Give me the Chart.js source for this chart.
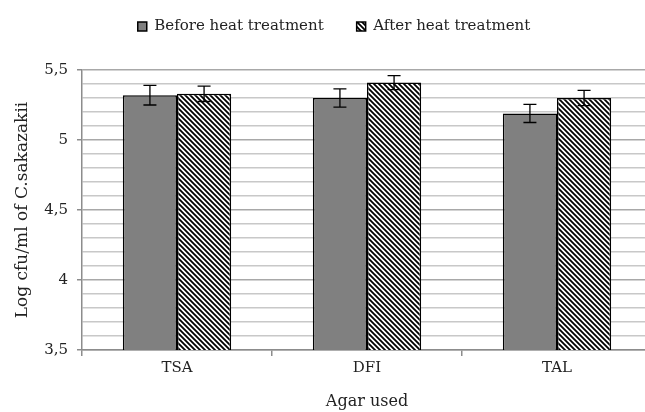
<!DOCTYPE html>
<html>
<head>
<meta charset="utf-8">
<script src="https://cdn.jsdelivr.net/npm/chart.js@4.4.0/dist/chart.umd.min.js"></script>
<style>
    html, body { margin: 0; padding: 0; background: #fff; overflow: hidden; }
    #wrap { width: 655px; height: 412px; }
</style>
</head>
<body>
<div id="wrap"><canvas id="chart"></canvas></div>
<script>
const agars = ['TSA', 'DFI', 'TAL'];
const beforeHeat = [5.32, 5.30, 5.19];
const afterHeat = [5.33, 5.41, 5.30];
const beforeErr = [0.07, 0.065, 0.065];
const afterErr = [0.055, 0.05, 0.055];
const yTicks = [3.5, 3.6, 3.7, 3.8, 3.9, 4.0, 4.1, 4.2, 4.3, 4.4, 4.5,
                4.6, 4.7, 4.8, 4.9, 5.0, 5.1, 5.2, 5.3, 5.4, 5.5];

const serif = 'DejaVu Serif';

function isMajor(v) {
    return Math.abs(v * 2 - Math.round(v * 2)) < 1e-6;
}

// black / white diagonal stripes for the "after" series
function makeHatch() {
    const size = 5;
    const tile = document.createElement('canvas');
    tile.width = size;
    tile.height = size;
    const c = tile.getContext('2d');
    c.fillStyle = '#fff';
    c.fillRect(0, 0, size, size);
    c.strokeStyle = '#000';
    c.lineWidth = 1.8;
    c.beginPath();
    for (const k of [-size, 0, size]) {
        c.moveTo(k - 1, -1);
        c.lineTo(k + size + 1, size + 1);
    }
    c.stroke();
    return c.createPattern(tile, 'repeat');
}

// Chart.js has no error bars, draw them from the y scale
const errorBars = {
    id: 'errorBars',
    afterDatasetsDraw(chart) {
        const ctx = chart.ctx;
        const y = chart.scales.y;
        const errs = [beforeErr, afterErr];
        ctx.save();
        ctx.strokeStyle = '#000';
        ctx.lineWidth = 1.3;
        chart.data.datasets.forEach((ds, i) => {
            chart.getDatasetMeta(i).data.forEach((bar, j) => {
                let top = y.getPixelForValue(ds.data[j] + errs[i][j]);
                let bottom = y.getPixelForValue(ds.data[j] - errs[i][j]);
                ctx.beginPath();
                ctx.moveTo(bar.x, top);
                ctx.lineTo(bar.x, bottom);
                ctx.moveTo(bar.x - 6.5, top);
                ctx.lineTo(bar.x + 6.5, top);
                ctx.moveTo(bar.x - 6.5, bottom);
                ctx.lineTo(bar.x + 6.5, bottom);
                ctx.stroke();
            });
        });
        ctx.restore();
    }
};

// extra room between the legend and the plot, legend nudged right
const legendSpacer = {
    id: 'legendSpacer',
    beforeInit(chart) {
        const fit = chart.legend.fit;
        chart.legend.fit = function () {
            fit.bind(chart.legend)();
            this.height += 26;
        };
    },
    afterLayout(chart) {
        chart.legend.left += 16;
    }
};

new Chart(document.getElementById('chart'), {
    type: 'bar',
    data: {
        labels: agars,
        datasets: [{
            label: 'Before heat treatment',
            data: beforeHeat,
            backgroundColor: '#808080',
            borderColor: '#000',
            borderWidth: 1.5
        }, {
            label: 'After heat treatment',
            data: afterHeat,
            backgroundColor: makeHatch(),
            borderColor: '#000',
            borderWidth: 1.5
        }]
    },
    options: {
        responsive: true,
        maintainAspectRatio: false,
        animation: false,
        layout: { padding: { top: -14, right: 3, left: 0, bottom: 0 } },
        datasets: {
            bar: { categoryPercentage: 0.57, barPercentage: 1.0 }
        },
        plugins: {
            tooltip: { enabled: false },
            legend: {
                position: 'top',
                labels: {
                    boxWidth: 9,
                    boxHeight: 9,
                    padding: 33,
                    color: '#222',
                    font: { family: serif, size: 15 }
                }
            }
        },
        scales: {
            x: {
                afterFit: (s) => { s.height = 62; },
                grid: {
                    drawOnChartArea: false,
                    offset: true,
                    tickLength: 6,
                    color: '#8c8c8c',
                    lineWidth: 1.5
                },
                border: { color: '#8c8c8c', width: 1.5 },
                ticks: {
                    color: '#222',
                    padding: 3,
                    font: { family: serif, size: 15 }
                },
                title: {
                    display: true,
                    text: 'Agar used',
                    color: '#222',
                    padding: { top: 0, bottom: 1 },
                    font: { family: serif, size: 16 }
                }
            },
            y: {
                min: 3.5,
                max: 5.5,
                afterFit: (s) => { s.width = 82; },
                afterBuildTicks: (s) => { s.ticks = yTicks.map(v => ({ value: v })); },
                grid: {
                    color: (c) => (c.tick && isMajor(c.tick.value)) ? '#a8a8a8' : '#c8c8c8',
                    tickColor: (c) => (c.tick && isMajor(c.tick.value)) ? '#8c8c8c' : 'rgba(0,0,0,0)',
                    tickLength: 5,
                    lineWidth: 1.5
                },
                border: { color: '#8c8c8c', width: 1.5 },
                ticks: {
                    autoSkip: false,
                    color: '#222',
                    padding: 9,
                    font: { family: serif, size: 15 },
                    callback: (v) => isMajor(v) ? String(Math.round(v * 10) / 10).replace('.', ',') : ''
                },
                title: {
                    display: true,
                    text: 'Log cfu/ml of C.sakazakii',
                    color: '#222',
                    padding: { top: 12, bottom: 0 },
                    font: { family: serif, size: 17 }
                }
            }
        }
    },
    plugins: [errorBars, legendSpacer]
});
</script>
</body>
</html>
